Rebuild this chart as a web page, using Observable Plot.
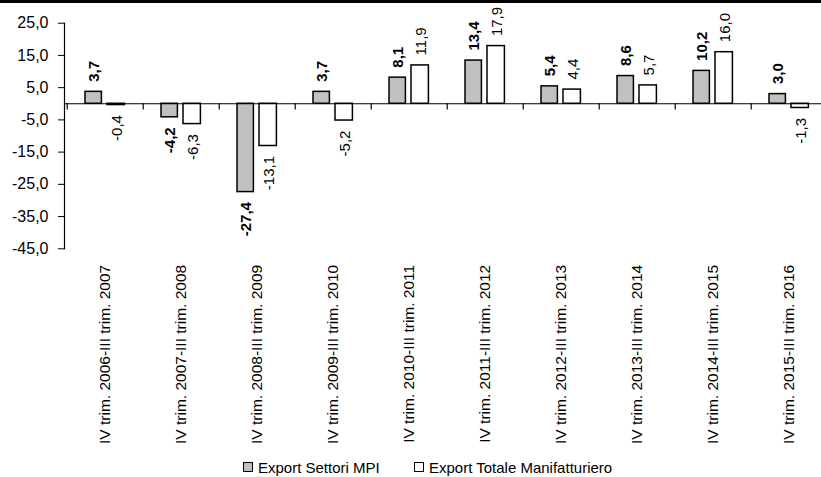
<!DOCTYPE html>
<html><head><meta charset="utf-8">
<script src="https://cdn.jsdelivr.net/npm/d3@7"></script>
<script src="https://cdn.jsdelivr.net/npm/@observablehq/plot@0.6"></script>
<style>
html,body{margin:0;padding:0;background:#fff;overflow:hidden;}
#wrap{width:821px;border-top:3px solid #000;font-family:"Liberation Sans",Arial,sans-serif;}
#legend{position:relative;height:24px;font-size:15px;color:#000;}
.item{position:absolute;top:0;display:flex;align-items:center;height:24px;white-space:nowrap;}
.sw{width:8px;height:8px;border:1px solid #000;margin-right:5px;}
</style></head><body><div id="wrap"><div id="chart"></div><div id="legend"></div></div>
<script>
const categories = [
  "IV trim. 2006-III trim. 2007",
  "IV trim. 2007-III trim. 2008",
  "IV trim. 2008-III trim. 2009",
  "IV trim. 2009-III trim. 2010",
  "IV trim. 2010-III trim. 2011",
  "IV trim. 2011-III trim. 2012",
  "IV trim. 2012-III trim. 2013",
  "IV trim. 2013-III trim. 2014",
  "IV trim. 2014-III trim. 2015",
  "IV trim. 2015-III trim. 2016"
];
const mpi = [3.7, -4.2, -27.4, 3.7, 8.1, 13.4, 5.4, 8.6, 10.2, 3.0];
const totale = [-0.4, -6.3, -13.1, -5.2, 11.9, 17.9, 4.4, 5.7, 16.0, -1.3];
const yTicks = [25, 15, 5, -5, -15, -25, -35, -45];
const seriesNames = ["Export Settori MPI", "Export Totale Manifatturiero"];
const seriesColors = ["#c0c0c0", "#ffffff"];

const fmt = v => v.toFixed(1).replace(".", ",");
const dMpi = categories.map((c, i) => ({cat: c, v: mpi[i]}));
const dTot = categories.map((c, i) => ({cat: c, v: totale[i]}));

const W = 821, H = 452;
const x0 = 64, bw = 76.6;
const xRange = [x0, x0 + bw * categories.length];
const font = "'Liberation Sans', Arial, sans-serif";

function labels(data, dx, weight) {
  return [
    Plot.text(data.filter(d => d.v >= 0), {x: "cat", y: "v", text: d => fmt(d.v), rotate: -90,
      textAnchor: "start", lineAnchor: "middle", dx, dy: -10, fontSize: 15, fontWeight: weight, fill: "#000"}),
    Plot.text(data.filter(d => d.v < 0), {x: "cat", y: "v", text: d => fmt(d.v), rotate: -90,
      textAnchor: "end", lineAnchor: "middle", dx, dy: 10, fontSize: 15, fontWeight: weight, fill: "#000"})
  ];
}

const chart = Plot.plot({
  width: W, height: H,
  marginLeft: x0, marginRight: 0, marginTop: 19.7, marginBottom: 206.7,
  style: {fontFamily: font, fontSize: "15px", background: "#fff", color: "#000", overflow: "hidden"},
  x: {domain: categories, range: xRange, padding: 0, label: null},
  y: {domain: [-45, 25], label: null},
  marks: [
    Plot.axisY({ticks: yTicks, tickFormat: fmt, tickSize: 6, tickPadding: 10, fontSize: 16, label: null}),
    Plot.axisX({tickSize: 0, tickPadding: 16, tickRotate: -90, fontSize: 15.5, label: null}),
    Plot.barY(dMpi, {x: "cat", y: "v", fill: seriesColors[0], stroke: "#000", strokeWidth: 1.5, insetLeft: 18, insetRight: 41.6}),
    Plot.barY(dTot, {x: "cat", y: "v", fill: seriesColors[1], stroke: "#000", strokeWidth: 1.5, insetLeft: 40, insetRight: 18.6}),
    Plot.ruleY([0], {stroke: "#000", strokeWidth: 1.2}),
    Plot.ruleX(categories, {x: d => d, y1: 0, y2: -1.9, dx: -bw / 2, stroke: "#000", strokeWidth: 1.2}),
    Plot.frame({anchor: "left", stroke: "#000", strokeWidth: 1.2}),
    ...labels(dMpi, -11.3, "bold"),
    ...labels(dTot, 11.2, "normal")
  ]
});
document.getElementById("chart").appendChild(chart);

const legend = document.getElementById("legend");
const lefts = [243, 414];
seriesNames.forEach((name, i) => {
  const item = document.createElement("div");
  item.className = "item";
  item.style.left = lefts[i] + "px";
  const sw = document.createElement("span");
  sw.className = "sw";
  sw.style.background = seriesColors[i];
  item.appendChild(sw);
  item.appendChild(document.createTextNode(name));
  legend.appendChild(item);
});
</script></body></html>
